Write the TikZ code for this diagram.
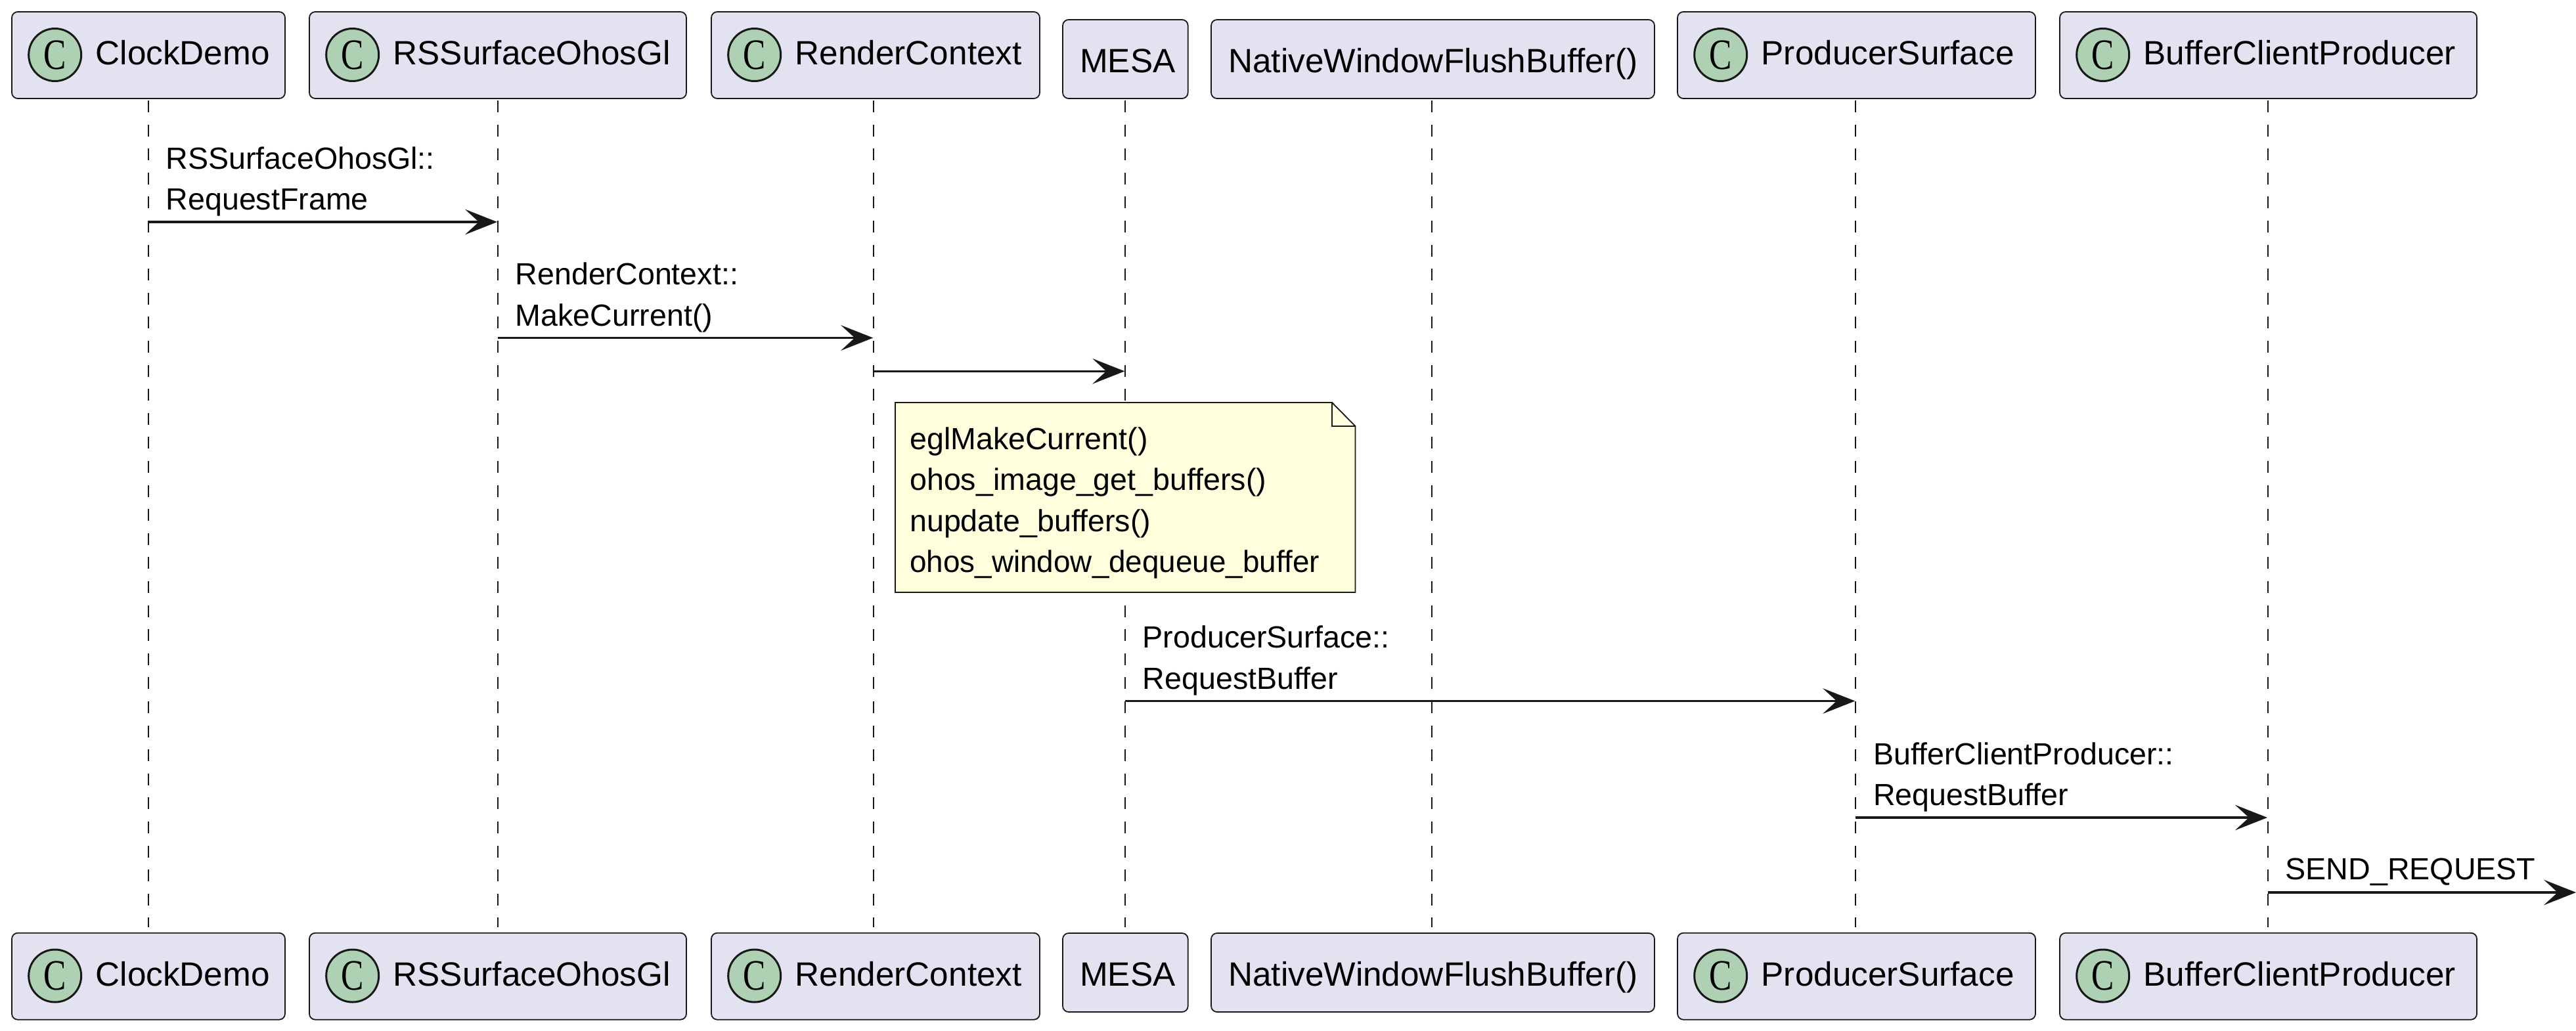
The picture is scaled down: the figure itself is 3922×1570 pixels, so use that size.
\documentclass[tikz,border=0pt]{standalone}
\usepackage{fontspec}
\setmainfont{Liberation Sans}
\newfontfamily\cfont{Liberation Serif}
\usetikzlibrary{arrows.meta}
\definecolor{ink}{HTML}{181818}
\definecolor{partfill}{HTML}{E2E2F0}
\definecolor{notefill}{HTML}{FEFFDD}
\definecolor{spot}{HTML}{ADD1B2}
\tikzset{
  partbox/.style={draw=ink,fill=partfill,line width=1.8pt,rounded corners=9pt,inner sep=0pt},
  parttext/.style={anchor=base west,inner sep=0pt,text=black,font=\fontsize{51.3}{60}\selectfont},
  spotc/.style={circle,draw=ink,fill=spot,line width=3pt,minimum size=80pt,inner sep=0pt,text=black,font=\cfont\fontsize{66}{66}\selectfont},
  lifeline/.style={draw=ink,line width=1.9pt,dash pattern=on 18pt off 18.6pt,shorten <=3pt,shorten >=9pt},
  msgline/.style={draw=ink,line width=3.6pt,shorten >=1pt,-{Stealth[length=49pt,width=38.6pt,inset=21pt]}},
  msgtext/.style={anchor=south west,inner sep=0pt,align=left,text=black,font=\fontsize{46.6}{62.5}\selectfont},
  notebody/.style={draw=ink,fill=notefill,line width=1.8pt,line join=miter},
}
\newcommand\actorc[4]{%
  \node[partbox,minimum width=#3-#2,minimum height=132pt] (t#1) at ({(#2+#3)/2},84) {};
  \node[spotc] (ts#1) at (#2+65.7,83.5) {\scalebox{0.78}[1]{C}};
  \node[parttext] (tl#1) at (#2+127.5,98.5) {#4};
  \node[partbox,minimum width=#3-#2,minimum height=132pt] (b#1) at ({(#2+#3)/2},1486.7) {};
  \node[spotc] (bs#1) at (#2+65.7,1486) {\scalebox{0.78}[1]{C}};
  \node[parttext] (bl#1) at (#2+127.5,1501.7) {#4};
}
\newcommand\actorp[4]{%
  \node[partbox,minimum width=#3-#2,minimum height=120pt] (t#1) at ({(#2+#3)/2},90) {};
  \node[parttext] (tl#1) at (#2+26,110.7) {#4};
  \node[partbox,minimum width=#3-#2,minimum height=120pt] (b#1) at ({(#2+#3)/2},1481) {};
  \node[parttext] (bl#1) at (#2+26,1501.7) {#4};
}
\newcommand\lblend{\rule[-14pt]{0pt}{0pt}}
\begin{document}
\begin{tikzpicture}[x=1pt,y=-1pt]
\useasboundingbox (0,0) rectangle (3922,1570);
\fill[white] (0,0) rectangle (3922,1570);
\coordinate (lt1) at (226,150);\coordinate (lb1) at (226,1421);
\coordinate (lt2) at (758,150);\coordinate (lb2) at (758,1421);
\coordinate (lt3) at (1330.3,150);\coordinate (lb3) at (1330.3,1421);
\coordinate (lt4) at (1713.3,150);\coordinate (lb4) at (1713.3,1421);
\coordinate (lt5) at (2180.3,150);\coordinate (lb5) at (2180.3,1421);
\coordinate (lt6) at (2825.3,150);\coordinate (lb6) at (2825.3,1421);
\coordinate (lt7) at (3453,150);\coordinate (lb7) at (3453,1421);
\foreach \i in {1,...,7} \draw[lifeline] (lt\i) -- (lb\i);
\actorc{1}{18}{434}{ClockDemo}
\actorc{2}{471}{1045}{RSSurfaceOhosGl}
\actorc{3}{1083}{1583}{RenderContext}
\actorp{4}{1618}{1808.7}{MESA}
\actorp{5}{1844}{2519}{NativeWindowFlushBuffer()}
\actorc{6}{2554}{3099}{ProducerSurface}
\actorc{7}{3136}{3771}{BufferClientProducer}
% messages
\draw[msgline] (lt1 |- 0,338) -- (lt2 |- 0,338);
\node[msgtext] (m1) at (252.5,334) {RSSurfaceOhosGl::\\RequestFrame\lblend};
\draw[msgline] (lt2 |- 0,514.5) -- (lt3 |- 0,514.5);
\node[msgtext] (m2) at (784.5,510.5) {RenderContext::\\MakeCurrent()\lblend};
\draw[msgline] (lt3 |- 0,565.3) -- (lt4 |- 0,565.3);
\draw[msgline] (lt4 |- 0,1067.5) -- (lt6 |- 0,1067.5);
\node[msgtext] (m4) at (1739.5,1063.5) {ProducerSurface::\\RequestBuffer\lblend};
\draw[msgline] (lt6 |- 0,1245) -- (lt7 |- 0,1245);
\node[msgtext] (m5) at (2852,1241) {BufferClientProducer::\\RequestBuffer\lblend};
\coordinate (edge) at (3923,1359);
\draw[msgline] (lt7 |- 0,1359) -- (edge);
\node[msgtext] (m6) at (3479.5,1354) {SEND\_REQUEST\lblend};
% note
\draw[notebody] (1363,613) -- (2028,613) -- (2063.5,649) -- (2063.5,902) -- (1363,902) -- cycle;
\draw[notebody,fill=none] (2028,613) -- (2028,649) -- (2063.5,649);
\node[msgtext] (n1) at (1385,886) {eglMakeCurrent()\\ohos\_image\_get\_buffers()\\nupdate\_buffers()\\\scalebox{0.984}[1]{ohos\_window\_dequeue\_buffer}\lblend};
\end{tikzpicture}
\end{document}
